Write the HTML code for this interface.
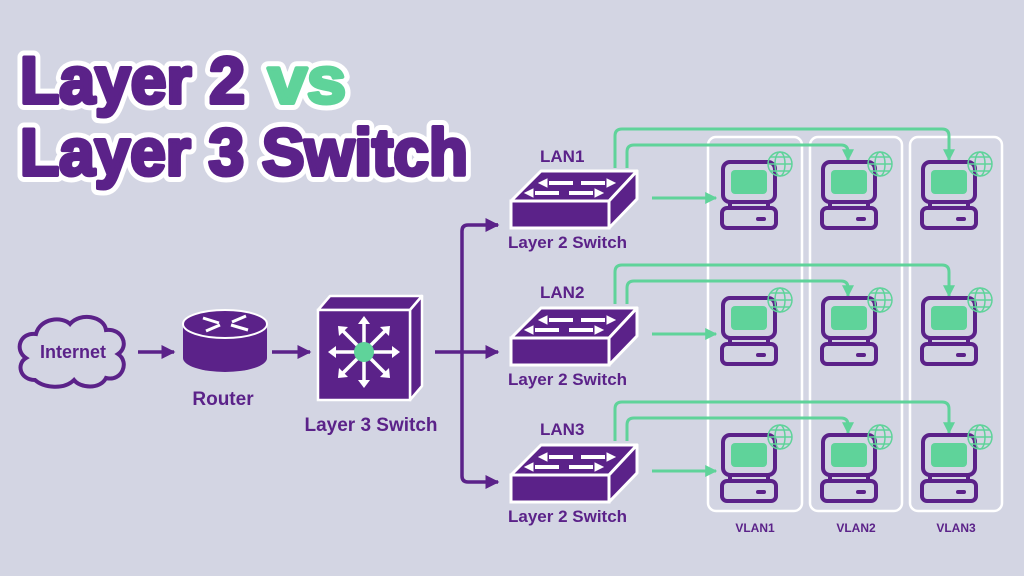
<!DOCTYPE html>
<html><head><meta charset="utf-8"><style>
html,body{margin:0;padding:0;background:#d3d5e3;}
svg{display:block}
text{font-family:"Liberation Sans",sans-serif;font-weight:bold}
</style></head><body>
<svg width="1024" height="576" viewBox="0 0 1024 576" xmlns="http://www.w3.org/2000/svg">
<defs>
<marker id="ap" viewBox="0 0 10 10" refX="9" refY="5" markerWidth="4" markerHeight="4" orient="auto"><path d="M0 0L10 5L0 10z" fill="#5b2289"/></marker>
<marker id="ag" viewBox="0 0 10 10" refX="9" refY="5" markerWidth="4" markerHeight="4" orient="auto"><path d="M0 0L10 5L0 10z" fill="#5fd39a"/></marker>
<g id="pc">
<rect x="3" y="0" width="52" height="40" rx="7" fill="none" stroke="#5b2289" stroke-width="4"/>
<rect x="11" y="8" width="36" height="24" rx="4" fill="#5fd39a"/>
<path d="M10 40 L10 46 M48 40 L48 46" stroke="#5b2289" stroke-width="4"/>
<rect x="2" y="46" width="54" height="20" rx="5" fill="none" stroke="#5b2289" stroke-width="4"/>
<rect x="36" y="55" width="10" height="4" rx="2" fill="#5b2289"/>
<g fill="none" stroke="#5fd39a" stroke-width="1.5"><circle cx="60" cy="2" r="12"/><ellipse cx="60" cy="2" rx="5" ry="12"/><path d="M48 2H72M50 -5H70M50 9H70"/></g>
</g>
<g id="sw">
<path d="M0 30 L30 0 L126 0 L98 30Z" fill="#5b2289" stroke="#fff" stroke-width="3" stroke-linejoin="round"/>
<rect x="0" y="30" width="98" height="27" fill="#5b2289" stroke="#fff" stroke-width="3"/>
<path d="M98 30 L126 0 L126 28 L98 57Z" fill="#5b2289" stroke="#fff" stroke-width="3" stroke-linejoin="round"/>
<g stroke="#fff" stroke-width="4" fill="#fff">
<path d="M38 12 H62"/><path d="M28 12 l8 -4 v8z" stroke-width="1"/>
<path d="M70 12 H94"/><path d="M104 12 l-8 -4 v8z" stroke-width="1"/>
<path d="M24 22 H48"/><path d="M14 22 l8 -4 v8z" stroke-width="1"/>
<path d="M58 22 H82"/><path d="M92 22 l-8 -4 v8z" stroke-width="1"/>
</g>
</g>
</defs>

<g font-size="66" stroke="#fff" stroke-width="14" stroke-linejoin="round">
<text x="20" y="103" fill="#fff" textLength="225" lengthAdjust="spacingAndGlyphs">Layer 2</text>
<text x="268" y="103" fill="#fff" textLength="78" lengthAdjust="spacingAndGlyphs">vs</text>
<text x="20" y="175" fill="#fff" textLength="448" lengthAdjust="spacingAndGlyphs">Layer 3 Switch</text>
</g>
<g font-size="66" stroke-width="4" stroke-linejoin="round">
<text x="20" y="103" fill="#5b2289" stroke="#5b2289" textLength="225" lengthAdjust="spacingAndGlyphs">Layer 2</text>
<text x="268" y="103" fill="#5fd39a" stroke="#5fd39a" textLength="78" lengthAdjust="spacingAndGlyphs">vs</text>
<text x="20" y="175" fill="#5b2289" stroke="#5b2289" textLength="448" lengthAdjust="spacingAndGlyphs">Layer 3 Switch</text>
</g>

<g fill="none" stroke="#fff" stroke-width="2.5">
<rect x="708" y="137" width="94" height="374" rx="8"/>
<rect x="810" y="137" width="92" height="374" rx="8"/>
<rect x="910" y="137" width="92" height="374" rx="8"/>
</g>
<g font-size="12" fill="#5b2289" text-anchor="middle">
<text x="755" y="532">VLAN1</text><text x="856" y="532">VLAN2</text><text x="956" y="532">VLAN3</text>
</g>

<path d="M35 380 C20 380 16 364 26 358 C14 350 20 332 36 334 C40 318 62 316 70 324 C80 312 104 316 106 330 C122 328 130 346 118 354 C130 362 122 382 106 378 C100 390 80 388 74 380 C64 390 44 388 35 380Z" fill="none" stroke="#5b2289" stroke-width="4"/>
<text x="73" y="358" font-size="18" fill="#5b2289" text-anchor="middle">Internet</text>
<line x1="138" y1="352" x2="174" y2="352" stroke="#5b2289" stroke-width="3.5" marker-end="url(#ap)"/>

<path d="M183 324 V358 A42 14 0 0 0 267 358 V324Z" fill="#5b2289"/>
<ellipse cx="225" cy="324" rx="42" ry="14" fill="#5b2289" stroke="#fff" stroke-width="2"/>
<g stroke="#fff" stroke-width="3"><path d="M203 318 L219 323 M231 325 L248 330 M206 331 L220 325 M232 322 L246 316"/></g>
<text x="223" y="405" font-size="19" fill="#5b2289" text-anchor="middle">Router</text>
<line x1="272" y1="352" x2="310" y2="352" stroke="#5b2289" stroke-width="3.5" marker-end="url(#ap)"/>

<path d="M318 310 L330 296 L422 296 L410 310Z" fill="#5b2289" stroke="#fff" stroke-width="2.5" stroke-linejoin="round"/>
<path d="M410 310 L422 296 L422 386 L410 400Z" fill="#5b2289" stroke="#fff" stroke-width="2.5" stroke-linejoin="round"/>
<rect x="318" y="310" width="92" height="90" fill="#5b2289" stroke="#fff" stroke-width="2.5"/>
<g stroke="#fff" stroke-width="3.5" stroke-linecap="round">
<path d="M364 352 V320 M364 352 V384 M364 352 H332 M364 352 H396 M364 352 L341 329 M364 352 L387 329 M364 352 L341 375 M364 352 L387 375"/>
</g>
<g fill="#fff"><path d="M364 316 l-6 8 h12z"/><path d="M364 388 l-6 -8 h12z"/><path d="M328 352 l8 -6 v12z"/><path d="M400 352 l-8 -6 v12z"/>
<path d="M338 326 l10 1 l-9 9z"/><path d="M390 326 l-10 1 l9 9z"/><path d="M338 378 l10 -1 l-9 -9z"/><path d="M390 378 l-10 -1 l9 -9z"/></g>
<circle cx="364" cy="352" r="10" fill="#5fd39a"/>
<text x="371" y="431" font-size="19" fill="#5b2289" text-anchor="middle">Layer 3 Switch</text>

<g stroke="#5b2289" stroke-width="3.5" fill="none">
<line x1="435" y1="352" x2="498" y2="352" marker-end="url(#ap)"/>
<path d="M498 225 H468 Q462 225 462 231 V476 Q462 482 468 482 H498" marker-end="url(#ap)"/>
<path d="M490 225 H498" marker-end="url(#ap)"/>
</g>

<g font-size="17" fill="#5b2289">
<use href="#sw" x="511" y="171"/>
<text x="540" y="162">LAN1</text><text x="508" y="248">Layer 2 Switch</text>
<use href="#sw" x="511" y="308"/>
<text x="540" y="298">LAN2</text><text x="508" y="385">Layer 2 Switch</text>
<use href="#sw" x="511" y="445"/>
<text x="540" y="435">LAN3</text><text x="508" y="522">Layer 2 Switch</text>
</g>

<g stroke="#5fd39a" stroke-width="3" fill="none">
<g id="gl">
<line x1="652" y1="198" x2="716" y2="198" marker-end="url(#ag)"/>
<path d="M615 168 V136 Q615 129 622 129 H942 Q949 129 949 136 V160" marker-end="url(#ag)"/>
<path d="M627 168 V152 Q627 145 634 145 H841 Q848 145 848 152 V160" marker-end="url(#ag)"/>
</g>
<use href="#gl" y="136"/>
<use href="#gl" y="273"/>
</g>

<use href="#pc" x="720" y="162"/><use href="#pc" x="820" y="162"/><use href="#pc" x="920" y="162"/>
<use href="#pc" x="720" y="298"/><use href="#pc" x="820" y="298"/><use href="#pc" x="920" y="298"/>
<use href="#pc" x="720" y="435"/><use href="#pc" x="820" y="435"/><use href="#pc" x="920" y="435"/>
</svg>
</body></html>
